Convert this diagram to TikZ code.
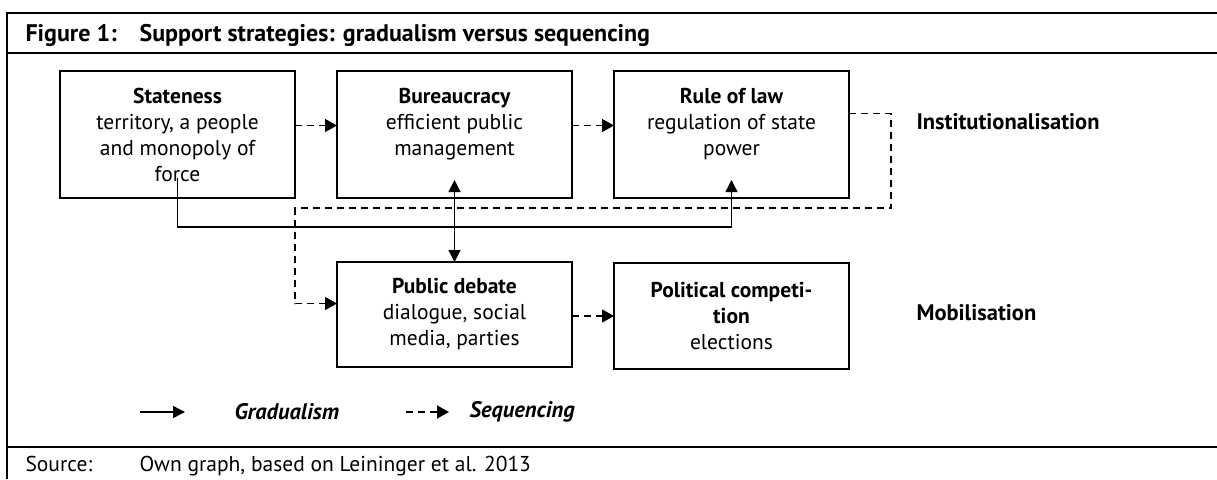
\documentclass[tikz,border=0pt]{standalone}
\usepackage{fontspec}
\setmainfont{PT Sans}
\usetikzlibrary{arrows.meta}

\tikzset{
  block/.style={draw, line width=1.5pt, inner sep=0pt, outer sep=0pt,
    minimum width=235pt, align=center, anchor=north west},
  grad/.style={line width=1.4pt, -{Triangle[length=12pt,width=12pt]}},
  seq/.style={line width=1.4pt, dash pattern=on 7pt off 5pt,
    -{Triangle[length=12pt,width=13pt]}},
  lead/.style={font=\fontsize{22.5}{26}\selectfont\bfseries, anchor=west},
}

\begin{document}
\begin{tikzpicture}[x=1pt,y=-1pt,font=\fontsize{21.5}{26}\selectfont]
  \useasboundingbox (0,0) rectangle (1217,479);

  % frame
  \draw [line width=2.6pt] (1217,13) -- (7,13) -- (7,479);
  \draw [line width=2.6pt] (7,53) -- (1217,53);
  \draw [line width=2.6pt] (7,447) -- (1217,447);

  % title
  \node [anchor=base west, font=\fontsize{24}{28}\selectfont\bfseries] (figno) at (22,41) {Figure 1:};
  \node [anchor=base west, font=\fontsize{24}{28}\selectfont\bfseries] (title) at (136,41) {Support strategies: gradualism versus sequencing};

  % institutionalisation
  \node [block, minimum height=127pt] (stateness) at (60,71)
    {\textbf{Stateness}\\territory, a people\\and monopoly of\\force};
  \node [block, minimum height=127pt] (bureau) at (337,71)
    {\textbf{Bureaucracy}\\efficient public\\management\\\mbox{}};
  \node [block, minimum height=127pt] (rulelaw) at (614,71)
    {\textbf{Rule of law}\\regulation of state\\power\\\mbox{}};

  % mobilisation
  \node [block, minimum height=105pt] (debate) at (337,262)
    {\textbf{Public debate}\\dialogue, social\\media, parties};
  \node [block, minimum height=106pt] (compet) at (614,263)
    {\textbf{Political competi-}\\\textbf{tion}\\elections};

  % labels
  \node [lead] (instlabel) at (913,122) {Institutionalisation};
  \node [lead] (mobilabel) at (913,313) {Mobilisation};

  % sequencing
  \draw [seq] ([yshift=9pt]stateness.east) -- ([yshift=9pt]bureau.west);
  \draw [seq] ([yshift=9pt]bureau.east) -- ([yshift=9pt]rulelaw.west);
  \coordinate (seqright) at (891,208);
  \coordinate (seqleft) at (295,208);
  \draw [seq] ([yshift=21pt]rulelaw.east) -| (seqright) -- (seqleft) |- ([yshift=11pt]debate.west);
  \draw [seq] (debate.east |- compet.west) -- (compet.west);

  % gradualism
  \coordinate (gradbend) at (0,227);
  \draw [grad] ([yshift=20pt]stateness.south) |- (rulelaw.south |- gradbend) -- ([yshift=18pt]rulelaw.south);
  \draw [grad, {Triangle[length=12pt,width=12pt]}-{Triangle[length=12pt,width=12pt]}] ([yshift=18pt]bureau.south) -- (debate.north);

  % legend
  \coordinate (gradfrom) at (140,412);
  \coordinate (gradto) at (185,412);
  \draw [grad] (gradfrom) -- (gradto);
  \node [anchor=west, font=\fontsize{22.5}{26}\selectfont\bfseries\itshape] (gradlabel) at (231,412) {Gradualism};
  \coordinate (seqfrom) at (406,412);
  \coordinate (seqto) at (449,412);
  \draw [seq] (seqfrom) -- (seqto);
  \node [anchor=west, font=\fontsize{22.5}{26}\selectfont\bfseries\itshape] (seqlabel) at (466,412) {Sequencing};

  % source
  \node [anchor=base west, font=\fontsize{21.5}{26}\selectfont] (srclabel) at (22,471) {Source:};
  \node [anchor=base west, font=\fontsize{21.5}{26}\selectfont] (srctext) at (136,471) {Own graph, based on Leininger et al. 2013};
\end{tikzpicture}
\end{document}
